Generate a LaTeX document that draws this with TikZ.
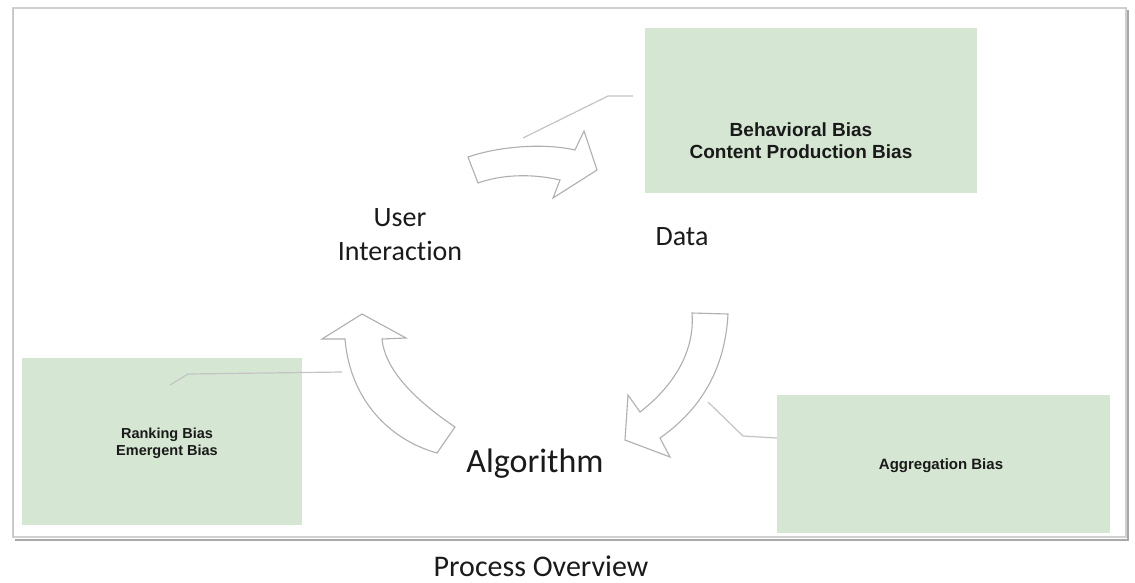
\documentclass[tikz,border=0pt]{standalone}
\usepackage{fontspec}
\setmainfont{Carlito}[Ligatures=NoCommon]
\newfontfamily\arialfont{Liberation Sans}
\definecolor{boxgreen}{HTML}{D5E6D3}
\definecolor{arrowgray}{HTML}{AFAFAF}
\definecolor{linegray}{HTML}{C4C4C4}
\definecolor{framegray}{HTML}{D0D0D0}
\definecolor{shadowgray}{HTML}{A8A8A8}
\definecolor{txt}{HTML}{1A1A1A}
\tikzset{
  greenbox/.style={fill=boxgreen, draw=none, inner sep=0pt},
  boxtext/.style={font=\arialfont\bfseries, text=txt, align=center, inner sep=0pt},
  stagetext/.style={font=\fontsize{28}{34}\selectfont, text=txt, align=center, inner sep=0pt},
  blockarrow/.style={draw=arrowgray, fill=white, line width=1.1pt, line join=miter},
  leader/.style={draw=linegray, line width=1.2pt}
}
\begin{document}
\begin{tikzpicture}[x=1pt,y=-1pt]
\useasboundingbox (0,0) rectangle (1135,582);
% frame with shadow
\draw[shadowgray, line width=2.5pt] (1128,10) -- (1128,540) -- (15,540);
\draw[framegray, line width=1.2pt, fill=white] (13,8) rectangle (1126,537);
\draw[shadowgray!70, line width=1.5pt] (13.5,8) -- (13.5,537);

% green boxes
\node[greenbox, minimum width=332pt, minimum height=165pt] (b1) at (811,110.5) {};
\node[greenbox, minimum width=280pt, minimum height=167pt] (b2) at (162,441.5) {};
\node[greenbox, minimum width=333pt, minimum height=138pt] (b3) at (943.5,464) {};

\node[boxtext, font=\arialfont\bfseries\fontsize{19}{22}\selectfont] (t1) at (801,141) {Behavioral Bias\\Content Production Bias};
\node[boxtext, font=\arialfont\bfseries\fontsize{14.5}{17}\selectfont] (t2) at (167,443.5) {Ranking Bias\\Emergent Bias};
\node[boxtext, font=\arialfont\bfseries\fontsize{15}{17}\selectfont] (t3) at (941,466) {Aggregation Bias};

% stage labels
\node[stagetext] (ui) at (400,235) {User\\Interaction};
\node[stagetext] (data) at (682,237) {Data};
\node[stagetext, font=\fontsize{34}{38}\selectfont] (algo) at (535,464) {Algorithm};
\node[stagetext, font=\fontsize{30}{34}\selectfont] (cap) at (541,566) {Process Overview};

% block arrows
\draw[blockarrow] (468,157) .. controls (500,146) and (545,143) .. (575,150)
  -- (584,131) -- (597,170) -- (553,198) -- (560,180)
  .. controls (530,173) and (500,175) .. (478,183) -- cycle;
\draw[blockarrow] (692,313) -- (728,314)
  .. controls (725,370) and (700,410) .. (660,438)
  -- (670,457) -- (625,440) -- (628,395) -- (640,412)
  .. controls (675,385) and (695,350) .. cycle;
\draw[blockarrow] (362,314) -- (406,338) -- (382,339)
  .. controls (385,370) and (415,400) .. (455,427)
  -- (437,453)
  .. controls (390,440) and (350,400) .. (345,339)
  -- (322,339) -- cycle;

% leader lines
\coordinate (l1a) at (633,96);
\coordinate (l1b) at (608,96);
\coordinate (l1c) at (523,138);
\draw[leader] (l1a) -- (l1b) -- (l1c);
\coordinate (l2a) at (708,402);
\coordinate (l2b) at (743,436);
\coordinate (l2c) at (b3.west |- 0,438);
\draw[leader] (l2a) -- (l2b) -- (l2c);
\coordinate (l3a) at (342,372);
\coordinate (l3b) at (188,374);
\coordinate (l3c) at (170,385);
\draw[leader] (l3a) -- (l3b) -- (l3c);
\end{tikzpicture}
\end{document}
